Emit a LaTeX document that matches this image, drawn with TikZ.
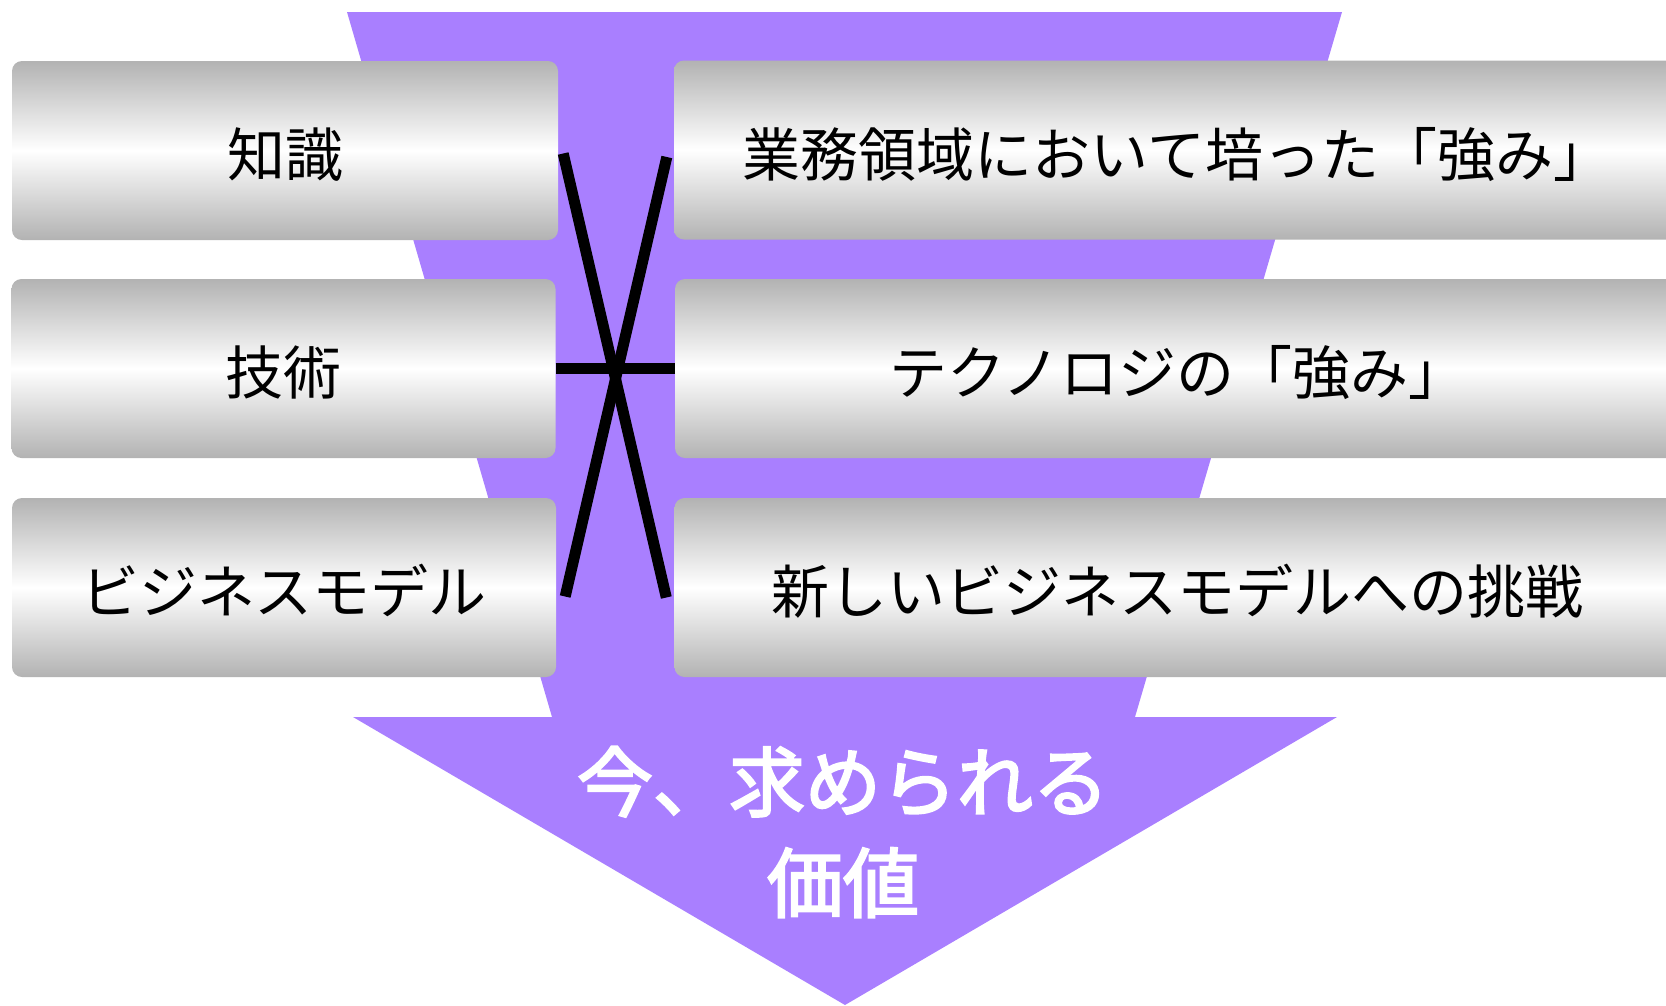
\documentclass[tikz,border=0pt]{standalone}
\usepackage{fontspec}
\newfontfamily\jp{Noto Sans CJK JP}
\usetikzlibrary{calc}
\definecolor{funnel}{RGB}{169,127,255}
\newcommand\heavy[1]{\special{pdf:literal direct 2 Tr 2.2 w 1 1 1 RG}#1\special{pdf:literal direct 0 Tr 0.4 w}}
\begin{document}
\begin{tikzpicture}[x=1pt,y=-1pt,
    bar/.style={rounded corners=10pt,top color=black!30,bottom color=black!30,middle color=white,
        inner sep=0pt,minimum height=179pt,text height=60pt,text depth=8pt,
        font=\jp\fontsize{58}{60}\selectfont},
    cross/.style={line width=11pt}]
    \useasboundingbox(0,0)rectangle(1666,1005);
    \clip(0,0)rectangle(1666,1005);
    % funnel and arrow
    \fill[funnel](347,12)--(1342,12)--(1135,717)--(1337,717)--(845,1005)--(353,717)--(552,717)--cycle;
    \node[text=white,align=center,font=\jp\fontsize{76}{101}\selectfont](value)at(843,832){\heavy{今、求められる}\\\heavy{価値}};
    % left column
    \node[bar,minimum width=546pt](kn)at(285,150.5){知識};
    \node[bar,minimum width=544pt](tech)at(283.5,368.5){技術};
    \node[bar,minimum width=544pt](biz)at(284,587.5){ビジネスモデル};
    % right column
    \node[bar,minimum width=1006pt](strA)at(1177,150){業務領域において培った「強み」};
    \node[bar,minimum width=1006pt](strB)at(1178,368.5){テクノロジの「強み」};
    \node[bar,minimum width=1006pt](chal)at(1177.5,587.5){新しいビジネスモデルへの挑戦};
    % links
    \draw[cross]($(kn.east)+(5,3)$)--($(chal.west)+(-8,10)$);
    \draw[cross]($(strA.west)+(-7,7)$)--($(biz.east)+(9,9)$);
    \draw[cross](tech.east)--(strB.west);
\end{tikzpicture}
\end{document}
